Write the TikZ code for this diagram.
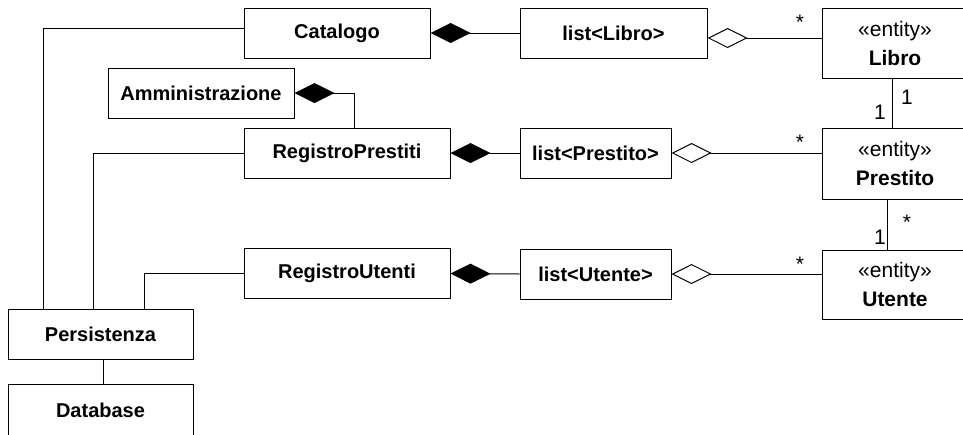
\documentclass[tikz,border=0pt]{standalone}
\usepackage{fontspec}
\setmainfont{Liberation Sans}
\usepackage{tikz}
\usetikzlibrary{arrows.meta,positioning}
\tikzset{
  classe/.style={draw,font=\bfseries,inner sep=0pt,minimum height=25pt},
  entita/.style={draw,align=center,inner sep=0pt,minimum width=80pt},
  comp/.style={{Diamond[length=20pt,width=10pt]}-},
  aggr/.style={{Diamond[open,length=20pt,width=10pt]}-},
  molt/.style={inner sep=0pt},
}

\begin{document}
\begin{tikzpicture}[x=0.5pt,y=-0.5pt,line width=0.5pt,
    font=\fontsize{10.5}{14.5}\selectfont]
  \useasboundingbox (0,0) rectangle (963,434);
  \clip (0,0) rectangle (963,434);
  % classi
  \node[classe,minimum width=93pt] (catalogo) at (337,33) {Catalogo};
  \node[classe,minimum width=93.5pt] (listLibro) at (613.5,33) {list<Libro>};
  \node[classe,minimum width=93pt] (ammin) at (201,93) {Amministrazione};
  \node[classe,minimum width=103pt] (regPrest) at (347,153) {RegistroPrestiti};
  \node[classe,minimum width=75.5pt] (listPrest) at (595.5,153) {list<Prestito>};
  \node[classe,minimum width=103pt] (regUtenti) at (347,273.5) {RegistroUtenti};
  \node[classe,minimum width=75.5pt] (listUtente) at (595.5,274) {list<Utente>};
  \node[classe,minimum width=92.5pt] (persist) at (100.5,334) {Persistenza};
  \node[classe,minimum width=92.5pt,minimum height=26pt] (database) at (100.5,410) {Database};
  % entita (tagliate sul bordo destro)
  \node[entita,minimum height=35pt] (libro) at (902,43) {\hspace*{-7pt}«entity»\\\hspace*{-7pt}\textbf{Libro}};
  \node[entita,minimum height=35.5pt] (prestito) at (902,163.5) {\hspace*{-7pt}«entity»\\\hspace*{-7pt}\textbf{Prestito}};
  \node[entita,minimum height=34.5pt] (utente) at (902,284.5) {\hspace*{-7pt}«entity»\\\hspace*{-7pt}\textbf{Utente}};
  % composizioni e aggregazioni
  \draw[comp] (catalogo.east) -- (listLibro.west);
  \draw[aggr] ([yshift=-2.5pt]listLibro.east) -- ([yshift=-2.5pt]listLibro.east -| libro.west);
  \draw[comp] (ammin.east) -| ([xshift=3.5pt]regPrest.north);
  \draw[comp] (regPrest.east) -- (listPrest.west);
  \draw[aggr] (listPrest.east) -- (listPrest.east -| prestito.west);
  \draw[comp] (regUtenti.east) -- (listUtente.west);
  \draw[aggr] (listUtente.east) -- (listUtente.east -| utente.west);
  % associazioni tra entita
  \draw ([xshift=-5pt]libro.south) -- ([xshift=-5pt]libro.south |- prestito.north);
  \draw ([xshift=-7.5pt]prestito.south) -- ([xshift=-7.5pt]prestito.south |- utente.north);
  % persistenza
  \draw ([yshift=2.5pt]catalogo.west) -| ([xshift=-28.75pt]persist.north);
  \draw (regPrest.west) -| ([xshift=-3.75pt]persist.north);
  \draw (regUtenti.west) -| ([xshift=21.75pt]persist.north);
  \draw ([xshift=1.25pt]persist.south) -- ([xshift=1.25pt]database.north);
  % molteplicita
  \node[molt] (m1) at (800,22) {*};
  \node[molt] (m2) at (800,142) {*};
  \node[molt] (m3) at (800,264) {*};
  \node[molt] (m4) at (880,112) {1};
  \node[molt] (m5) at (907,97) {1};
  \node[molt] (m6) at (907,222) {*};
  \node[molt] (m7) at (880,237) {1};
\end{tikzpicture}
\end{document}
